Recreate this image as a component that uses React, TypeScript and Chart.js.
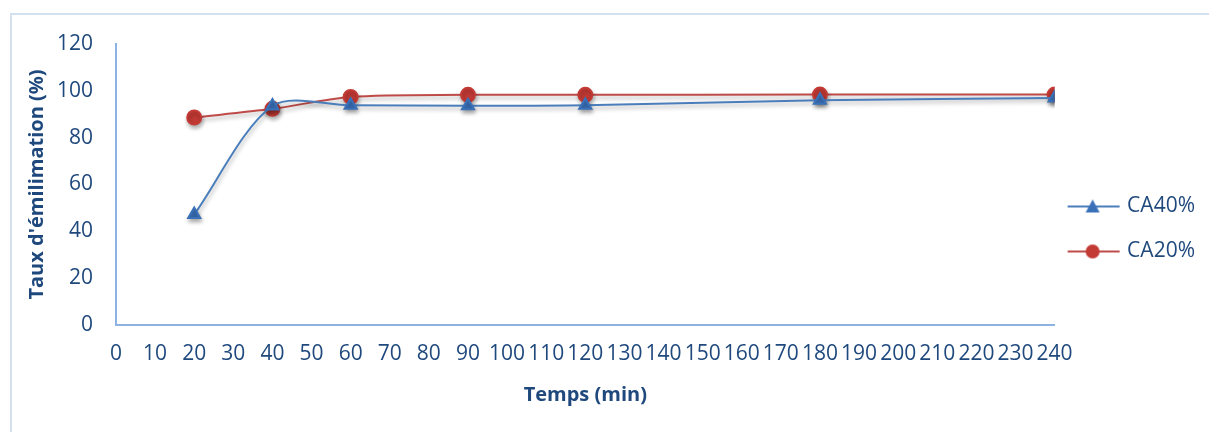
import { useEffect, useRef } from 'react';
import { Chart, registerables } from 'chart.js';

Chart.register(...registerables);

// Sampling times (min) and removal rates (%) for the two activated-carbon doses
const times = [20, 40, 60, 90, 120, 180, 240];
const ca40 = [47.2, 93.5, 93.8, 93.6, 93.8, 96.0, 96.9];
const ca20 = [88.6, 92.3, 97.4, 98.3, 98.3, 98.4, 98.4];
const seriesLabels = ['CA40%', 'CA20%'];
const xTitle = 'Temps (min)';
const yTitle = "Taux d'émilimation (%)";

const TEXT = '#1f497d';
const AXIS = '#8db3e2';
const FRAME = '#d3e1f1';
const BLUE_LINE = '#4a7ebb';
const BLUE_MARK = '#3a70b8';
const RED_LINE = '#be4b48';
const RED_MARK = '#c33a35';
const FONT = '"Open Sans", Lato, sans-serif';

// Legend swatch: short line with the series marker on it
function makeSwatch(lineColor: string, markColor: string, marker: 'triangle' | 'circle') {
  const c = document.createElement('canvas');
  c.width = 62;
  c.height = 20;
  const ctx = c.getContext('2d')!;
  ctx.strokeStyle = lineColor;
  ctx.lineWidth = 2;
  ctx.beginPath();
  ctx.moveTo(1, 10);
  ctx.lineTo(53, 10);
  ctx.stroke();
  ctx.fillStyle = markColor;
  ctx.beginPath();
  if (marker === 'circle') {
    ctx.arc(26, 10, 7, 0, Math.PI * 2);
  } else {
    ctx.moveTo(26, 3);
    ctx.lineTo(33, 16);
    ctx.lineTo(19, 16);
    ctx.closePath();
  }
  ctx.fill();
  return c;
}

// Soft drop shadow under lines and markers
const shadowPlugin = {
  id: 'seriesShadow',
  beforeDatasetsDraw(chart: any) {
    const ctx = chart.ctx;
    ctx.save();
    ctx.shadowColor = 'rgba(0,0,0,0.30)';
    ctx.shadowBlur = 4;
    ctx.shadowOffsetX = 1;
    ctx.shadowOffsetY = 3;
  },
  afterDatasetsDraw(chart: any) {
    chart.ctx.restore();
  },
};

export default function App() {
  const canvasRef = useRef<HTMLCanvasElement | null>(null);

  useEffect(() => {
    const swatches = [
      makeSwatch(BLUE_LINE, BLUE_MARK, 'triangle'),
      makeSwatch(RED_LINE, RED_MARK, 'circle'),
    ];
    const chart = new Chart(canvasRef.current!, {
      type: 'line',
      data: {
        datasets: [
          {
            label: seriesLabels[0],
            data: times.map((t, i) => ({ x: t, y: ca40[i] })),
            borderColor: BLUE_LINE,
            backgroundColor: BLUE_MARK,
            pointBackgroundColor: BLUE_MARK,
            pointBorderColor: BLUE_MARK,
            pointStyle: 'triangle',
            pointRadius: 7,
            borderWidth: 2,
            tension: 0.3,
          },
          {
            label: seriesLabels[1],
            data: times.map((t, i) => ({ x: t, y: ca20[i] })),
            borderColor: RED_LINE,
            backgroundColor: RED_MARK,
            pointBackgroundColor: RED_MARK,
            pointBorderColor: RED_MARK,
            pointStyle: 'circle',
            pointRadius: 7,
            borderWidth: 2,
            tension: 0.3,
          },
        ],
      },
      options: {
        responsive: false,
        animation: false,
        layout: { padding: { left: 25, top: 44, right: 4, bottom: 18 } },
        plugins: {
          tooltip: { enabled: false },
          legend: {
            position: 'right',
            labels: {
              usePointStyle: true,
              pointStyleWidth: 38,
              padding: 24,
              color: TEXT,
              font: { family: FONT, size: 21 },
              generateLabels: (ch: any) =>
                ch.data.datasets.map((ds: any, i: number) => ({
                  text: ds.label,
                  pointStyle: swatches[i],
                  fillStyle: ds.backgroundColor,
                  strokeStyle: ds.borderColor,
                  lineWidth: 0,
                  hidden: false,
                  datasetIndex: i,
                  fontColor: TEXT,
                })),
            },
          },
        },
        scales: {
          x: {
            type: 'linear',
            min: 0,
            max: 240,
            afterFit: (s: any) => {
              s.height = 89;
            },
            grid: { display: false, drawTicks: false },
            border: { display: true, color: AXIS, width: 2 },
            ticks: {
              stepSize: 10,
              autoSkip: false,
              maxRotation: 0,
              padding: 16,
              color: TEXT,
              font: { family: FONT, size: 21 },
            },
            title: {
              display: true,
              text: xTitle,
              color: TEXT,
              font: { family: FONT, size: 20, weight: 'bold' },
              padding: { top: 0, bottom: 7 },
            },
          },
          y: {
            min: 0,
            max: 120,
            afterFit: (s: any) => {
              s.width = 91;
            },
            grid: { display: false, drawTicks: false },
            border: { display: true, color: AXIS, width: 2 },
            ticks: {
              stepSize: 20,
              padding: 23,
              color: TEXT,
              font: { family: FONT, size: 21 },
            },
            title: {
              display: true,
              text: yTitle,
              color: TEXT,
              font: { family: FONT, size: 20, weight: 'bold' },
              padding: { top: 0, bottom: 0 },
            },
          },
        },
      },
      plugins: [shadowPlugin],
    } as any);
    return () => chart.destroy();
  }, []);

  return (
    <div
      style={{
        position: 'absolute',
        left: 0,
        top: 0,
        width: 1209,
        height: 432,
        overflow: 'hidden',
        background: '#ffffff',
      }}
    >
      <div
        style={{
          position: 'absolute',
          left: 10,
          top: 13,
          width: 1260,
          height: 480,
          border: `2px solid ${FRAME}`,
          boxSizing: 'border-box',
        }}
      />
      <canvas
        ref={canvasRef}
        width={1209}
        height={432}
        style={{ position: 'absolute', left: 0, top: 0 }}
      />
    </div>
  );
}
